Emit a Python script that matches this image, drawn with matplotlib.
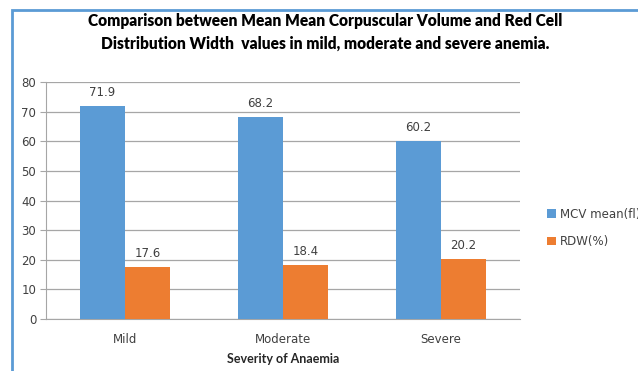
import matplotlib
matplotlib.use("Agg")
import matplotlib.pyplot as plt
import numpy as np
from matplotlib.patches import Rectangle

categories = ["Mild", "Moderate", "Severe"]
mcv_mean = [71.9, 68.2, 60.2]
rdw = [17.6, 18.4, 20.2]
series_names = ["MCV mean(fl)", "RDW(%)"]
yticks = [0, 10, 20, 30, 40, 50, 60, 70, 80]

BLUE = "#5B9BD5"
ORANGE = "#ED7D31"

fig = plt.figure(figsize=(6.38, 3.71), dpi=100)
ax = fig.add_axes([0.0721, 0.140, 0.743, 0.639])

x = np.arange(len(categories))
w = 0.285
b1 = ax.bar(x - w / 2, mcv_mean, w, color=BLUE, label=series_names[0], zorder=3)
b2 = ax.bar(x + w / 2, rdw, w, color=ORANGE, label=series_names[1], zorder=3)

for bars, vals in ((b1, mcv_mean), (b2, rdw)):
    for b, v in zip(bars, vals):
        ax.annotate(f"{v:.1f}", (b.get_x() + b.get_width() / 2, v),
                    xytext=(0, 5), textcoords="offset points",
                    ha="center", va="bottom", fontsize=8.5,
                    family="DejaVu Sans", color="#404040")

ax.set_xlim(-0.5, 2.5)
ax.set_ylim(0, 80)
ax.set_yticks(yticks)
ax.set_xticks(x)
ax.set_xticklabels(categories)
ax.tick_params(axis="y", length=4, color="#a6a6a6", labelsize=8.5,
               labelcolor="#404040", pad=3)
ax.tick_params(axis="x", length=0, labelsize=8.5, labelcolor="#404040", pad=10)
ax.grid(axis="y", color="#a6a6a6", linewidth=0.9, zorder=0)
for s in ("top", "right"):
    ax.spines[s].set_visible(False)
ax.spines["left"].set_color("#a6a6a6")
ax.spines["bottom"].set_color("#a6a6a6")

ax.set_xlabel("Severity of Anaemia", family="Lato", fontweight="bold",
              fontsize=9, color="#262626", labelpad=5)

fig.text(0.51, 0.965, "Comparison between Mean Mean Corpuscular Volume and Red Cell\n"
         "Distribution Width  values in mild, moderate and severe anemia.",
         ha="center", va="top", family="Lato", fontweight="heavy", fontsize=11.2,
         linespacing=1.5, color="#000000")

ax.legend(loc="center left", bbox_to_anchor=(1.035, 0.385), frameon=False,
          fontsize=8.5, handlelength=0.7, handleheight=0.7, labelspacing=1.2,
          handletextpad=0.4, labelcolor="#404040")

fig.patches.append(Rectangle((12 / 638, -0.1), 1.2, 1 - 10 / 371 + 0.1,
                             transform=fig.transFigure, fill=False,
                             edgecolor=BLUE, linewidth=2, clip_on=False))

fig.savefig("out.png", dpi=100)
